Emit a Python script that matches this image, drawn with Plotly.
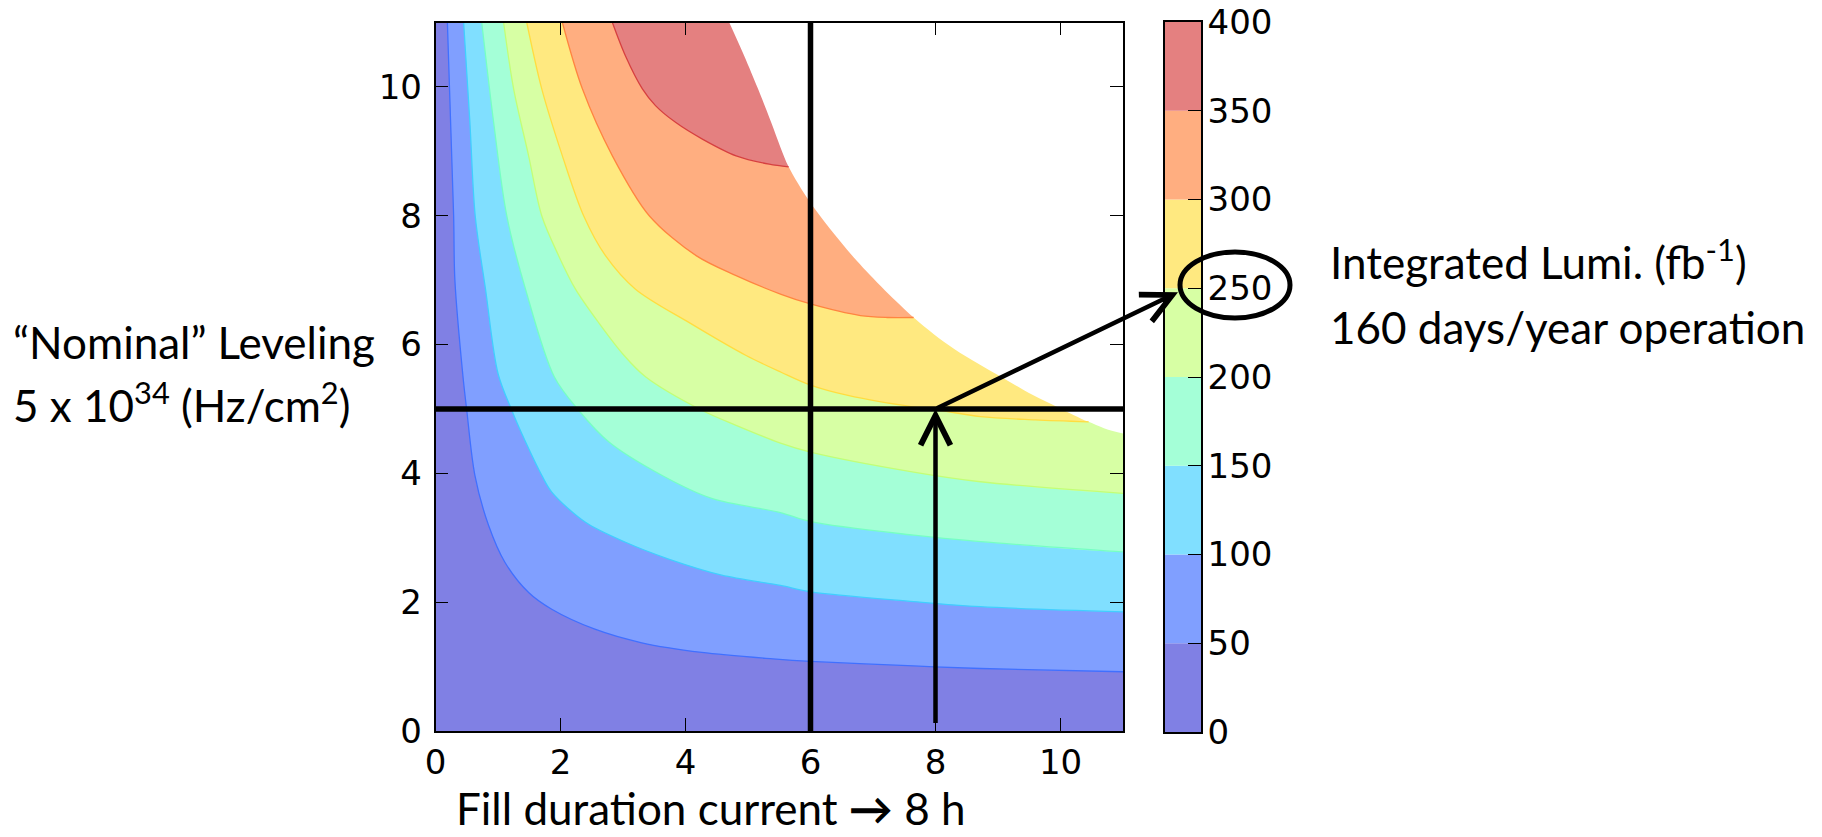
import plotly.graph_objects as go

W, H = 1822, 837

# ---------------- data ----------------
levels = [0, 50, 100, 150, 200, 250, 300, 350, 400]
band_colors = ['#8080e4', '#809fff', '#80dfff', '#a4ffd7',
               '#d7ffa4', '#ffe980', '#ffae80', '#e48080']
edge_colors = ['#4070ff', '#40cfff', '#76ffc3', '#c3ff76',
               '#ffdd40', '#ff8540', '#d64040']

x_ticks = [0, 2, 4, 6, 8, 10]
y_ticks = [0, 2, 4, 6, 8, 10]
cb_ticks = [0, 50, 100, 150, 200, 250, 300, 350, 400]
x_range = [0, 11]
y_range = [0, 11]

# iso-lumi contour lines (x = fill duration [h], y = levelled lumi [1e34])
c50_x = [0.19, 0.29, 0.31, 0.44, 0.50, 0.63, 0.85, 1.11, 1.49, 1.86, 2.55, 3.30, 4.26, 5.40, 6.00, 7.65, 8.72, 11.0]
c50_y = [11.0, 8.00, 7.00, 5.50, 4.98, 3.97, 3.19, 2.62, 2.15, 1.89, 1.58, 1.37, 1.22, 1.12, 1.08, 1.01, 0.97, 0.92]

c100_x = [0.45, 0.55, 0.635, 0.80, 1.00, 1.22, 1.44, 1.70, 1.86, 2.40, 3.04, 3.73, 4.58, 5.52, 6.00, 7.65, 8.72, 11.0]
c100_y = [11.0, 9.45, 8.00, 6.86, 5.55, 4.98, 4.49, 3.97, 3.71, 3.24, 2.93, 2.67, 2.42, 2.26, 2.16, 2.01, 1.93, 1.85]

c150_x = [0.74, 0.93, 1.14, 1.44, 1.90, 2.29, 2.77, 3.62, 4.42, 5.52, 6.00, 7.65, 8.72, 11.0]
c150_y = [11.0, 9.45, 8.00, 6.86, 5.50, 4.98, 4.49, 3.97, 3.61, 3.39, 3.25, 3.04, 2.94, 2.78]

c200_x = [1.09, 1.25, 1.49, 1.70, 1.97, 2.24, 2.61, 3.00, 3.36, 4.26, 4.80, 5.52, 6.00, 7.65, 8.72, 11.0]
c200_y = [11.0, 9.97, 8.93, 8.00, 7.38, 6.86, 6.34, 5.85, 5.50, 4.98, 4.75, 4.47, 4.33, 4.02, 3.87, 3.69]

c250_x = [1.46, 1.70, 2.03, 2.37, 2.72, 3.20, 4.06, 4.97, 5.53, 6.00, 6.60, 7.65, 8.00, 8.72, 9.60, 10.45]
c250_y = [11.0, 9.97, 8.93, 8.00, 7.38, 6.86, 6.34, 5.83, 5.57, 5.37, 5.21, 5.03, 4.99, 4.88, 4.83, 4.80]

c300_x = [2.03, 2.35, 2.83, 3.42, 4.17, 4.81, 5.53, 6.00, 6.80, 7.23, 7.65]
c300_y = [11.0, 9.97, 8.93, 8.00, 7.38, 7.07, 6.78, 6.63, 6.45, 6.42, 6.42]

c350_x = [2.83, 3.04, 3.31, 3.52, 3.84, 4.27, 4.81, 5.34, 5.65]
c350_y = [11.0, 10.48, 9.97, 9.71, 9.45, 9.19, 8.93, 8.80, 8.76]

# edge of the filled region (white beyond it)
white_x = [4.70, 4.94, 5.16, 5.37, 5.52, 5.65, 6.00, 6.74, 7.65, 8.30, 9.10, 9.55, 9.97, 10.45, 11.0]
white_y = [11.0, 10.48, 9.97, 9.45, 9.06, 8.76, 8.20, 7.30, 6.42, 5.93, 5.47, 5.22, 5.02, 4.80, 4.62]

fill_now = 6          # vertical reference line
nominal_level = 5     # horizontal reference line ("Nominal" levelling)
fill_target = 8       # arrow position
arrow_base = 0.1
lumi_marked = 250     # level circled on the colour bar

contours = [(c50_x, c50_y), (c100_x, c100_y), (c150_x, c150_y), (c200_x, c200_y),
            (c250_x, c250_y), (c300_x, c300_y), (c350_x, c350_y)]

# ---------------- layout geometry (pixels) ----------------
PX0, PX1 = 435.5, 1123.0      # main plot left/right
PY0, PY1 = 731.0, 22.5        # main plot bottom/top
CBX0, CBX1 = 1165.0, 1201.0   # colour bar left/right
CBY0, CBY1 = 732.0, 22.0      # colour bar bottom/top
PAD = 3                       # how far hidden helper edges run outside the axes


def pxx(v):
    return v / W


def pxy(v):
    return 1 - v / H


fig = go.Figure()
SPL = dict(shape='spline', smoothing=0.9)

# level-0 region covers the whole axes
xo, yo = x_range[1] + PAD, y_range[1] + PAD
fig.add_trace(go.Scatter(x=[x_range[0], xo, xo, x_range[0]],
                         y=[y_range[0], y_range[0], yo, yo],
                         fill='toself', mode='lines', fillcolor=band_colors[0],
                         line=dict(width=0, color=band_colors[0]),
                         hoverinfo='skip', showlegend=False))

# each higher level painted above its contour line (the hidden edges run outside)
for k, (cx, cy) in enumerate(contours):
    px = list(cx) + [xo, xo, cx[0]]
    py = list(cy) + [cy[-1], yo, yo]
    col = band_colors[k + 1]
    fig.add_trace(go.Scatter(x=px, y=py, fill='toself', mode='lines',
                             fillcolor=col, line=dict(width=0, color=col, **SPL),
                             hoverinfo='skip', showlegend=False))

# white area beyond the feasible edge
mx = list(white_x) + [xo, xo, white_x[0]]
my = list(white_y) + [white_y[-1], yo, yo]
fig.add_trace(go.Scatter(x=mx, y=my, fill='toself', mode='lines', fillcolor='white',
                         line=dict(width=0, color='white', **SPL),
                         hoverinfo='skip', showlegend=False))

for k, (cx, cy) in enumerate(contours):
    fig.add_trace(go.Scatter(x=cx, y=cy, mode='lines',
                             line=dict(width=1.3, color=edge_colors[k], **SPL),
                             hoverinfo='skip', showlegend=False))

# colour bar built from stacked bars
for k in range(len(levels) - 1):
    fig.add_trace(go.Bar(x=[0], y=[levels[k + 1] - levels[k]], base=[levels[k]], width=[1],
                         marker=dict(color=band_colors[k], line=dict(width=0)),
                         xaxis='x2', yaxis='y2', hoverinfo='skip', showlegend=False))

tick_font = dict(family='DejaVu Sans', size=34, color='black')
axis_common = dict(showline=True, linecolor='black', linewidth=1.5, showgrid=False,
                   zeroline=False, ticks='inside', ticklen=13, tickwidth=1.3,
                   tickcolor='black', tickfont=tick_font, automargin=False)

fig.update_layout(
    width=W, height=H, margin=dict(l=0, r=0, t=0, b=0, autoexpand=False),
    paper_bgcolor='white', plot_bgcolor='white', barmode='overlay',
    showlegend=False,
    xaxis=dict(domain=[pxx(PX0), pxx(PX1)], range=x_range, tickvals=x_ticks,
               mirror='allticks', anchor='y', ticklabelstandoff=0, **axis_common),
    yaxis=dict(domain=[pxy(PY0), pxy(PY1)], range=y_range, tickvals=y_ticks,
               mirror='allticks', anchor='x', ticklabelstandoff=5, **axis_common),
    xaxis2=dict(domain=[pxx(CBX0), pxx(CBX1)], range=[-0.5, 0.5], showticklabels=False,
                ticks='', showline=True, mirror=True, linecolor='black', linewidth=1.5,
                showgrid=False, zeroline=False, anchor='y2', fixedrange=True,
                automargin=False),
    yaxis2=dict(domain=[pxy(CBY0), pxy(CBY1)], range=[levels[0], levels[-1]], tickvals=cb_ticks,
                side='right', mirror=True, anchor='x2', ticklabelstandoff=-2, **axis_common),
)

# reference lines
fig.add_shape(type='line', xref='x', yref='y', x0=fill_now, x1=fill_now,
              y0=y_range[0], y1=y_range[1], line=dict(color='black', width=5.5), layer='above')
fig.add_shape(type='line', xref='x', yref='y', x0=x_range[0], x1=x_range[1],
              y0=nominal_level, y1=nominal_level, line=dict(color='black', width=5.5), layer='above')

# vertical arrow
fig.add_annotation(x=fill_target, y=nominal_level, ax=fill_target, ay=arrow_base,
                   xref='x', yref='y', axref='x', ayref='y', text='', showarrow=True,
                   arrowhead=5, arrowsize=1.3, arrowwidth=4.5, arrowcolor='black')

# diagonal arrow towards the colour bar
tail_px = PX0 + (fill_target - x_range[0]) / (x_range[1] - x_range[0]) * (PX1 - PX0)
tail_py = PY0 - (nominal_level - y_range[0]) / (y_range[1] - y_range[0]) * (PY0 - PY1)
tip_px = CBX0 + 13
tip_py = CBY0 - (lumi_marked - levels[0]) / (levels[-1] - levels[0]) * (CBY0 - CBY1) + 4
fig.add_annotation(x=pxx(tip_px), y=pxy(tip_py), xref='paper', yref='paper',
                   ax=tail_px - tip_px, ay=tail_py - tip_py, axref='pixel', ayref='pixel',
                   text='', showarrow=True, arrowhead=5, arrowsize=1.3, arrowwidth=4.5,
                   arrowcolor='black')

# ellipse around the 250 label
fig.add_shape(type='circle', xref='paper', yref='paper',
              x0=pxx(1180), x1=pxx(1290), y0=pxy(318), y1=pxy(252),
              line=dict(color='black', width=5), layer='above')

txt_font = dict(family='Lato', size=44, color='black')
texts = [
    ('\u201cNominal\u201d Leveling', 12, 342),
    ('5 x 10<sup>34</sup> (Hz/cm<sup>2</sup>)', 12, 402),
    ('Integrated Lumi. (fb<sup>-1</sup>)', 1329, 259),
    ('160 days/year operation', 1329, 327),
    ('Fill duration current <b>\u2192</b> 8 h', 455, 808),
]
for t, x, y in texts:
    fig.add_annotation(text=t, x=pxx(x), y=pxy(y), xref='paper', yref='paper',
                       xanchor='left', yanchor='middle', showarrow=False, font=txt_font,
                       borderpad=0)

fig.write_html('out.html')
